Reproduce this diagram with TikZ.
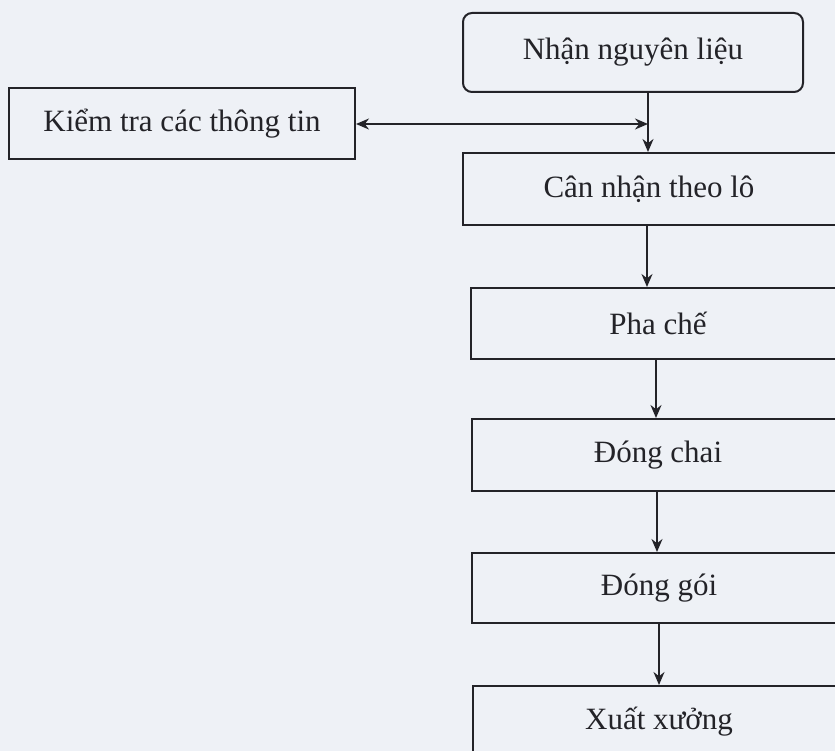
\documentclass[tikz,border=0pt]{standalone}
\usepackage{fontspec}
\setmainfont{Liberation Serif}
\usetikzlibrary{arrows.meta}
\definecolor{bg}{RGB}{238,241,246}
\definecolor{ink}{RGB}{35,35,40}
\begin{document}
\begin{tikzpicture}[x=1pt,y=-1pt,
  box/.style={draw=ink,line width=2pt,minimum height=71pt,inner sep=0pt,font=\fontsize{31}{36}\selectfont,text=ink,anchor=north west},
  tip/.style={Stealth[length=13pt,width=11pt]},
  conn/.style={draw=ink,line width=1.8pt,-{Stealth[length=13pt,width=11pt]}}]
\fill[bg] (0,0) rectangle (835,751);
\useasboundingbox (0,0) rectangle (835,751);
\clip (0,0) rectangle (835,751);
\node[box,rounded corners=9pt,minimum width=340pt,minimum height=79pt] (n1) at (462,12) {Nhận nguyên liệu};
\node[box,minimum width=346pt] (k) at (8,87) {Kiểm tra các thông tin};
\node[box,minimum width=380pt,minimum height=72pt] (c) at (462,152) {\hspace*{-8pt}Cân nhận theo lô};
\node[box,minimum width=380pt] (p) at (470,287) {\hspace*{-6pt}Pha chế};
\node[box,minimum width=380pt,minimum height=72pt] (d) at (471,418) {\hspace*{-8pt}Đóng chai};
\node[box,minimum width=380pt,minimum height=70pt] (g) at (471,552) {\hspace*{-6pt}Đóng gói};
\node[box,minimum width=380pt] (x) at (472,685) {\hspace*{-8pt}Xuất xưởng};
\coordinate (j) at (648,124);
\draw[conn] (n1.south -| j) -- (c.north -| j);
\draw[draw=ink,line width=1.8pt,{Stealth[length=13pt,width=11pt]}-{Stealth[length=13pt,width=11pt]}] (k.east |- j) -- (j);
\draw[conn] ([xshift=-6pt]c.south) -- ([xshift=-6pt]c.south |- p.north);
\draw[conn] ([xshift=-5pt]p.south) -- ([xshift=-5pt]p.south |- d.north);
\draw[conn] ([xshift=-5pt]d.south) -- ([xshift=-5pt]d.south |- g.north);
\draw[conn] ([xshift=-3pt]g.south) -- ([xshift=-3pt]g.south |- x.north);
\end{tikzpicture}
\end{document}
